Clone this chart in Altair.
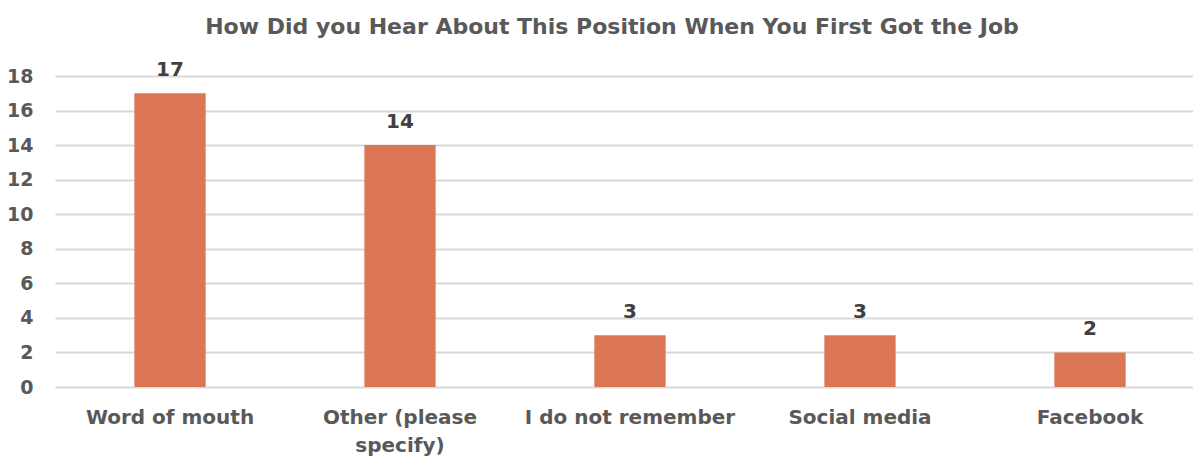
import altair as alt
import pandas as pd

categories = ["Word of mouth", "Other (please specify)", "I do not remember", "Social media", "Facebook"]
counts = [17, 14, 3, 3, 2]
y_ticks = [0, 2, 4, 6, 8, 10, 12, 14, 16, 18]
title_text = "How Did you Hear About This Position When You First Got the Job"

df = pd.DataFrame({"category": categories, "count": counts})

FONT = "DejaVu Sans"
GREY = "#595959"

x_enc = alt.X(
    "category:N",
    sort=categories,
    title=None,
    scale=alt.Scale(range=[0, 1150], paddingInner=0.69, paddingOuter=0.345),
    axis=alt.Axis(
        labelAngle=0,
        labelFont=FONT,
        labelFontWeight="bold",
        labelFontSize=20,
        labelColor=GREY,
        labelPadding=20,
        labelLineHeight=28,
        labelLimit=300,
        ticks=False,
        domain=False,
        grid=False,
        labelExpr="datum.label == 'Other (please specify)' ? ['Other (please', 'specify)'] : datum.label",
    ),
)
y_enc = alt.Y(
    "count:Q",
    title=None,
    scale=alt.Scale(domain=[0, 18], nice=False),
    axis=alt.Axis(
        values=y_ticks,
        tickCount=10,
        labelOverlap=False,
        labelBound=False,
        labelFont=FONT,
        labelFontWeight="bold",
        labelFontSize=19,
        labelColor=GREY,
        labelPadding=22,
        ticks=False,
        domain=False,
        grid=True,
        gridColor="#D9D9D9",
        gridWidth=2,
    ),
)

bars = alt.Chart(df).mark_bar(color="#DC7755").encode(x=x_enc, y=y_enc)
labels = alt.Chart(df).mark_text(
    font=FONT, fontWeight="bold", fontSize=20, color="#404040", baseline="bottom", dy=-13
).encode(x=alt.X("category:N", sort=categories), y="count:Q", text="count:Q")

chart = (
    alt.layer(bars, labels)
    .properties(
        width=1138,
        height=311,
        autosize=alt.AutoSizeParams(type="none"),
        padding={"left": 55, "top": 76, "right": 0, "bottom": 71},
        title=alt.TitleParams(
            title_text,
            font=FONT,
            fontWeight="bold",
            fontSize=22,
            color=GREY,
            anchor="middle",
            dx=-12,
            offset=21,
        ),
    )
    .configure_view(stroke=None)
)

chart.save("out.html", embed_options={"renderer": "svg", "actions": False})
